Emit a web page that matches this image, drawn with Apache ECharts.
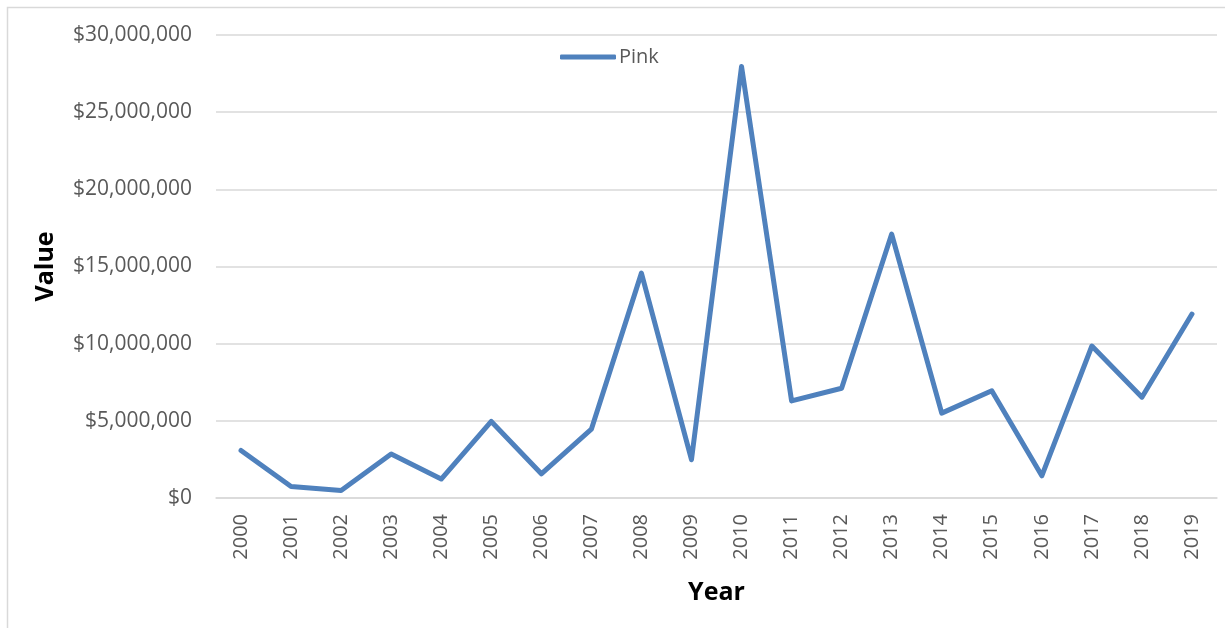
<!DOCTYPE html>
<html>
<head>
<meta charset="utf-8">
<script src="https://cdn.jsdelivr.net/npm/echarts@6/dist/echarts.min.js"></script>
<style>html,body{margin:0;padding:0;background:#fff}#c{width:1225px;height:628px}</style>
</head>
<body>
<div id="c"></div>
<script>
const years = ['2000','2001','2002','2003','2004','2005','2006','2007','2008','2009','2010','2011','2012','2013','2014','2015','2016','2017','2018','2019'];
const pinkValues = [3080000, 750000, 490000, 2850000, 1230000, 4960000, 1570000, 4460000, 14570000, 2480000, 27960000, 6290000, 7110000, 17100000, 5500000, 6950000, 1440000, 9850000, 6530000, 11920000];
const seriesName = 'Pink';
const xAxisTitle = 'Year';
const yAxisTitle = 'Value';

const chart = echarts.init(document.getElementById('c'), null, {renderer: 'canvas'});
const fontFam = '"Open Sans", "Noto Sans", sans-serif';
function money(v) {
  return '$' + Math.round(v).toString().replace(/\B(?=(\d{3})+(?!\d))/g, ',');
}
chart.setOption({
  animation: false,
  backgroundColor: '#ffffff',
  graphic: [{
    type: 'rect',
    shape: {x: 7.5, y: 7.5, width: 1240, height: 640},
    style: {fill: 'none', stroke: '#d9d9d9', lineWidth: 1.5},
    silent: true
  }],
  grid: {left: 216, right: 8, top: 35, bottom: 130, containLabel: false},
  legend: {
    data: [seriesName],
    left: 555,
    top: 42,
    icon: 'roundRect',
    itemWidth: 56,
    itemHeight: 5,
    itemGap: 10,
    textStyle: {color: '#595959', fontSize: 20, fontFamily: fontFam, padding: [0,0,0,-2]}
  },
  xAxis: {
    type: 'category',
    data: years,
    boundaryGap: true,
    name: xAxisTitle,
    nameLocation: 'middle',
    nameGap: 82,
    nameTextStyle: {color: '#000', fontSize: 25, fontWeight: 'bold', fontFamily: fontFam},
    axisLine: {show: true, lineStyle: {color: '#d9d9d9', width: 1.5}},
    axisTick: {show: false},
    axisLabel: {rotate: 90, color: '#595959', fontSize: 20, fontFamily: fontFam, margin: 16, interval: 0},
    splitLine: {show: false}
  },
  yAxis: {
    type: 'value',
    min: 0,
    max: 30000000,
    interval: 5000000,
    name: yAxisTitle,
    nameLocation: 'middle',
    nameGap: 158,
    nameRotate: 90,
    nameTextStyle: {color: '#000', fontSize: 25, fontWeight: 'bold', fontFamily: fontFam},
    axisLine: {show: false},
    axisTick: {show: false},
    axisLabel: {color: '#595959', fontSize: 21, fontFamily: fontFam, margin: 24, formatter: money},
    splitLine: {show: true, lineStyle: {color: '#d9d9d9', width: 1.5}}
  },
  series: [{
    name: seriesName,
    type: 'line',
    data: pinkValues,
    showSymbol: false,
    symbol: 'none',
    color: '#4F81BD',
    lineStyle: {color: '#4F81BD', width: 5, cap: 'round', join: 'round'}
  }]
});
</script>
</body>
</html>
